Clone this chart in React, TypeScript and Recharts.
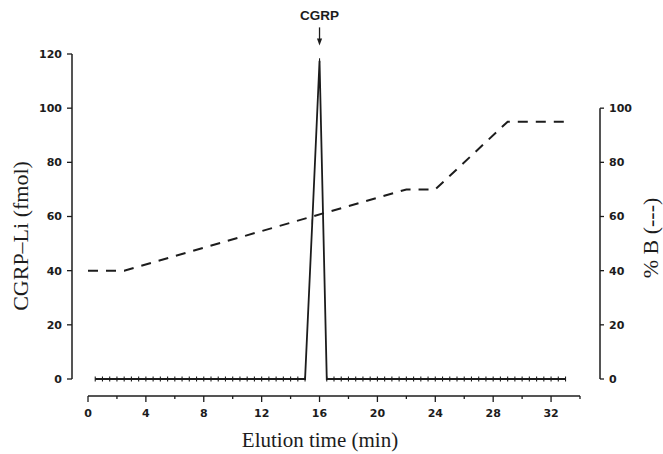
import React from 'react';
import { ComposedChart, Line, XAxis, YAxis, ReferenceLine, ReferenceDot } from 'recharts';

// Fraction times (min) and CGRP-like immunoreactivity (fmol)
const fractionTimes = [
  0.5, 1, 1.5, 2, 2.5, 3, 3.5, 4, 4.5, 5, 5.5, 6, 6.5, 7, 7.5, 8, 8.5, 9, 9.5, 10,
  10.5, 11, 11.5, 12, 12.5, 13, 13.5, 14, 14.5, 15, 15.5, 16, 16.5, 17, 17.5, 18, 18.5, 19,
  19.5, 20, 20.5, 21, 21.5, 22, 22.5, 23, 23.5, 24, 24.5, 25, 25.5, 26, 26.5, 27, 27.5, 28,
  28.5, 29, 29.5, 30, 30.5, 31, 31.5, 32, 32.5, 33,
];
const cgrpFmol = [
  0, 0, 0, 0, 0, 0, 0, 0, 0, 0, 0, 0, 0, 0, 0, 0, 0, 0, 0, 0,
  0, 0, 0, 0, 0, 0, 0, 0, 0, 0, 58, 117.5, 0, 0, 0, 0, 0, 0,
  0, 0, 0, 0, 0, 0, 0, 0, 0, 0, 0, 0, 0, 0, 0, 0, 0, 0,
  0, 0, 0, 0, 0, 0, 0, 0, 0, 0,
];

// Gradient (% B)
const gradientTimes = [0, 2.5, 22, 24, 29, 33];
const gradientB = [40, 40, 70, 70, 95, 95];

// Axis ticks
const xTicks = [0, 2, 4, 6, 8, 10, 12, 14, 16, 18, 20, 22, 24, 26, 28, 30, 32, 34];
const xLabelEvery = 4;
const xLabelMax = 32;
const leftTicks = [0, 20, 40, 60, 80, 100, 120];
const rightTicks = [0, 20, 40, 60, 80, 100];
const X_DOMAIN: [number, number] = [0, 34];
const Y_DOMAIN: [number, number] = [0, 120];
const PEAK_TIME = 16;

const cgrpData = fractionTimes.map((t, i) => ({ t, cgrp: cgrpFmol[i] }));
const gradData = gradientTimes.map((t, i) => ({ t, b: gradientB[i] }));

// Layout
const W = 663;
const H = 454;
const TOP = 54;
const LEFT_AXIS_W = 72;
const RIGHT_AXIS_W = 63;
const X_AXIS_H = 58;
const X_PAD_L = 16;
const X_PAD_R = 20;
const Y_PAD_B = 17;
const PLOT_W = W - LEFT_AXIS_W - RIGHT_AXIS_W;
const PLOT_H = H - TOP - X_AXIS_H;
const pxPerMin = (PLOT_W - X_PAD_L - X_PAD_R) / (X_DOMAIN[1] - X_DOMAIN[0]);
const pxPerUnit = (PLOT_H - Y_PAD_B) / (Y_DOMAIN[1] - Y_DOMAIN[0]);
const X_AT_LEFT_EDGE = X_DOMAIN[0] - X_PAD_L / pxPerMin;
const X_AT_RIGHT_EDGE = X_DOMAIN[1] + X_PAD_R / pxPerMin;
const Y_AT_BOTTOM = Y_DOMAIN[0] - Y_PAD_B / pxPerUnit;

const INK = '#1c1c1c';
const tickFont = { fontFamily: 'DejaVu Sans', fontSize: 11, fontWeight: 'bold' as const, fill: INK };
const serif = '"Liberation Serif", "Times New Roman", serif';

const XTick = (props: any) => {
  const { x, y, payload } = props;
  const v = payload.value as number;
  const major = v % xLabelEvery === 0 && v <= xLabelMax;
  return (
    <g>
      <line x1={x} x2={x} y1={y} y2={y + (major ? 6 : 3)} stroke={INK} strokeWidth={1.3} />
      {major && (
        <text x={x} y={y + 17} textAnchor="middle" dominantBaseline="central" {...tickFont}>
          {v}
        </text>
      )}
    </g>
  );
};

const TickDot = (props: any) => {
  const { cx, cy } = props;
  if (cx == null || cy == null) return null;
  return <line x1={cx} x2={cx} y1={cy - 2.5} y2={cy + 2.5} stroke={INK} strokeWidth={1.1} />;
};

const CgrpMarker = (props: any) => {
  const { cx, cy } = props;
  if (cx == null || cy == null) return null;
  return (
    <g>
      <text
        x={cx}
        y={cy - 21}
        textAnchor="middle"
        dominantBaseline="central"
        fontFamily='"Liberation Sans", Arial, sans-serif'
        fontWeight="bold"
        fontSize={13.5}
        fill={INK}
      >
        CGRP
      </text>
      <line x1={cx} x2={cx} y1={cy - 9} y2={cy + 3} stroke={INK} strokeWidth={1.3} />
      <path d={`M${cx - 2.6},${cy + 2} L${cx + 2.6},${cy + 2} L${cx},${cy + 9} Z`} fill={INK} />
    </g>
  );
};

const rotLabel = (text: string, getPos: (vb: any) => { x: number; y: number }) => (props: any) => {
  const vb = props.viewBox || {};
  const { x, y } = getPos(vb);
  return (
    <text
      x={x}
      y={y}
      transform={`rotate(-90 ${x} ${y})`}
      textAnchor="middle"
      dominantBaseline="central"
      fontFamily={serif}
      fontSize={22}
      fill={INK}
    >
      {text}
    </text>
  );
};

const xLabel = (props: any) => {
  const vb = props.viewBox || {};
  return (
    <text
      x={320}
      y={vb.y + 44}
      textAnchor="middle"
      dominantBaseline="central"
      fontFamily={serif}
      fontSize={21}
      fill={INK}
    >
      Elution time (min)
    </text>
  );
};

export default function App() {
  return (
    <div style={{ position: 'absolute', left: 0, top: 0, background: '#fff' }}>
      <ComposedChart width={W} height={H} margin={{ top: TOP, right: 0, bottom: 0, left: 0 }}>
        <XAxis
          xAxisId="x"
          dataKey="t"
          type="number"
          domain={X_DOMAIN}
          ticks={xTicks}
          padding={{ left: X_PAD_L, right: X_PAD_R }}
          axisLine={false}
          tickLine={false}
          tickSize={0}
          tickMargin={0}
          tick={<XTick />}
          height={X_AXIS_H}
          interval={0}
          label={{ content: xLabel }}
        />
        <YAxis
          yAxisId="left"
          orientation="left"
          domain={Y_DOMAIN}
          ticks={leftTicks}
          padding={{ top: 0, bottom: Y_PAD_B }}
          width={LEFT_AXIS_W}
          axisLine={false}
          tickLine={{ stroke: INK, strokeWidth: 1.3 }}
          tickSize={5}
          tickMargin={5}
          tick={tickFont}
          interval={0}
          label={{ content: rotLabel('CGRP–Li (fmol)', (vb) => ({ x: 20, y: vb.y + vb.height / 2 + 11 })) }}
        />
        <YAxis
          yAxisId="right"
          orientation="right"
          domain={Y_DOMAIN}
          ticks={rightTicks}
          padding={{ top: 0, bottom: Y_PAD_B }}
          width={RIGHT_AXIS_W}
          axisLine={false}
          tickLine={{ stroke: INK, strokeWidth: 1.3 }}
          tickSize={4}
          tickMargin={5}
          tick={tickFont}
          interval={0}
          label={{ content: rotLabel('% B (---)', (vb) => ({ x: 650, y: vb.y + vb.height / 2 + 13 })) }}
        />

        {/* axis lines */}
        <ReferenceLine
          xAxisId="x"
          yAxisId="left"
          ifOverflow="visible"
          segment={[{ x: X_DOMAIN[0], y: Y_AT_BOTTOM }, { x: X_DOMAIN[1], y: Y_AT_BOTTOM }]}
          stroke={INK}
          strokeWidth={1.5}
        />
        <ReferenceLine
          xAxisId="x"
          yAxisId="left"
          ifOverflow="visible"
          segment={[{ x: X_AT_LEFT_EDGE, y: Y_DOMAIN[0] }, { x: X_AT_LEFT_EDGE, y: Y_DOMAIN[1] }]}
          stroke={INK}
          strokeWidth={1.5}
        />
        <ReferenceLine
          xAxisId="x"
          yAxisId="right"
          ifOverflow="visible"
          segment={[{ x: X_AT_RIGHT_EDGE, y: rightTicks[0] }, { x: X_AT_RIGHT_EDGE, y: rightTicks[rightTicks.length - 1] }]}
          stroke={INK}
          strokeWidth={1.5}
        />

        <Line
          xAxisId="x"
          yAxisId="right"
          data={gradData}
          dataKey="b"
          type="linear"
          stroke={INK}
          strokeWidth={2}
          strokeDasharray="10 8"
          dot={false}
          activeDot={false}
          isAnimationActive={false}
        />
        <Line
          xAxisId="x"
          yAxisId="left"
          data={cgrpData}
          dataKey="cgrp"
          type="linear"
          stroke={INK}
          strokeWidth={1.8}
          dot={<TickDot />}
          activeDot={false}
          isAnimationActive={false}
        />
        <ReferenceDot
          xAxisId="x"
          yAxisId="left"
          x={PEAK_TIME}
          y={126.5}
          ifOverflow="visible"
          shape={(p: any) => <CgrpMarker cx={p.cx} cy={p.cy} />}
        />
      </ComposedChart>
    </div>
  );
}
